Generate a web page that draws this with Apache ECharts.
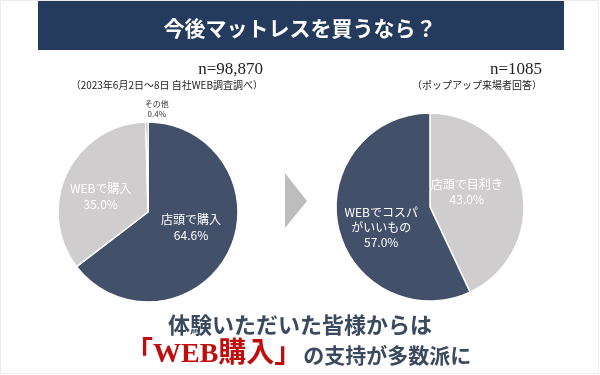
<!DOCTYPE html>
<html><head><meta charset="utf-8">
<script src="https://cdn.jsdelivr.net/npm/echarts@6/dist/echarts.min.js"></script>
<style>html,body{margin:0;padding:0;background:#fff}#c{width:600px;height:375px}</style>
</head><body><div id="c"></div>
<script>
const leftNames = ['店頭で購入', 'WEBで購入', 'その他'];
const leftValues = [64.6, 35.0, 0.4];
const rightNames = ['店頭で目利き', 'WEBでコスパ\nがいいもの'];
const rightValues = [43.0, 57.0];
const leftN = 'n=98,870';
const leftNote = '（2023年6月2日～8日 自社WEB調査調べ）';
const rightN = 'n=1085';
const rightNote = '（ポップアップ来場者回答）';
const heading = '今後マットレスを買うなら？';
const msg1 = '体験いただいた皆様からは';
const msg2a = '「WEB購入」';
const msg2b = 'の支持が多数派に';

const DARK = '#435069', LIGHT = '#cfcdce', OTHER = '#8c8c8c';
const JP = "'Noto Sans CJK JP', sans-serif";
const SERIF = "'Liberation Serif', 'DejaVu Serif', 'Noto Sans CJK JP', serif";

const chart = echarts.init(document.getElementById('c'));
const lbl = p => p.name + '\n' + p.value.toFixed(1) + '%';

chart.setOption({
  animation: false,
  graphic: [
    { type: 'rect', shape: { x: 0.5, y: 0.5, width: 598, height: 373 }, style: { fill: 'none', stroke: '#ececec', lineWidth: 1 }, z: -1 },
    { type: 'rect', shape: { x: 38, y: 1, width: 526, height: 49 }, style: { fill: '#243b5e' } },
    { type: 'polygon', shape: { points: [[285, 173], [307, 201], [285, 228]] }, style: { fill: '#bdbdbd' } }
  ],
  title: [
    { text: heading, left: 'center', top: 13, textStyle: { color: '#fff', fontSize: 21, fontWeight: 'bold', fontFamily: JP } },
    { text: leftN, right: 332, top: 56, textStyle: { color: '#222', fontSize: 17, fontWeight: 'normal', fontFamily: SERIF } },
    { text: leftNote, right: 332, top: 75, textStyle: { color: '#222', fontSize: 10, fontWeight: 'normal', fontFamily: JP } },
    { text: rightN, right: 53, top: 56, textStyle: { color: '#222', fontSize: 17, fontWeight: 'normal', fontFamily: SERIF } },
    { text: rightNote, right: 53, top: 75, textStyle: { color: '#222', fontSize: 10, fontWeight: 'normal', fontFamily: JP } },
    { text: msg1, left: 'center', top: 309, textStyle: { color: '#3b4a5e', fontSize: 22, fontWeight: 'bold', fontFamily: JP } },
    { text: '{r|' + msg2a + '}{d|' + msg2b + '}', left: 120, top: 336,
      textStyle: { rich: {
        r: { color: '#c00d0d', fontSize: 28, fontWeight: 'bold', fontFamily: SERIF },
        d: { color: '#3b4a5e', fontSize: 21, fontWeight: 'bold', fontFamily: JP, padding: [0, 0, 0, 1] }
      } } }
  ],
  series: [
    {
      type: 'pie', center: [148, 212], radius: 90, startAngle: 90, clockwise: true,
      itemStyle: { borderColor: '#fff', borderWidth: 1.5 },
      label: { position: 'inside', formatter: lbl, color: '#fff', fontSize: 12, lineHeight: 16, fontFamily: JP },
      labelLine: { show: false },
      data: leftNames.map((n, i) => {
        const d = { name: n, value: leftValues[i], itemStyle: { color: [DARK, LIGHT, OTHER][i] } };
        if (i === 2) d.label = { position: 'outside', color: '#333', fontSize: 8, lineHeight: 10, distanceToLabelLine: 0 };
        if (i === 2) d.labelLine = { show: false, length: 4, length2: 0 };
        return d;
      }),
      labelLayout: p => p.dataIndex === 2 ? { align: 'center', dx: 10, dy: -9 } :
                        p.dataIndex === 0 ? { dy: -6 } : { dx: -4, dy: 5 }
    },
    {
      type: 'pie', center: [430, 207], radius: 94, startAngle: 90, clockwise: true,
      itemStyle: { borderColor: '#fff', borderWidth: 1.5 },
      label: { position: 'inside', formatter: lbl, color: '#fff', fontSize: 12, lineHeight: 15, fontFamily: JP },
      labelLine: { show: false },
      data: rightNames.map((n, i) => ({ name: n, value: rightValues[i], itemStyle: { color: [LIGHT, DARK][i] } })),
      labelLayout: p => p.dataIndex === 0 ? { dx: -12, dy: -4 } : { dy: 10 }
    }
  ]
});
</script></body></html>
